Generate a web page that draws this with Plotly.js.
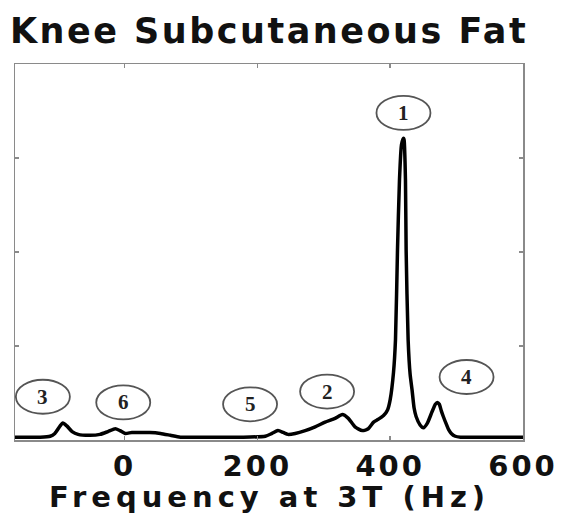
<!DOCTYPE html>
<html>
<head>
<meta charset="utf-8">
<script src="https://cdn.plot.ly/plotly-3.0.1.min.js"></script>
<style>
  html, body { margin: 0; padding: 0; background: #fff; }
  #chart { width: 565px; height: 516px; }
  #chart .gtitle { letter-spacing: 2.5px; }
  #chart .annotation[data-index="6"] text { letter-spacing: 5px; }
  #chart .xtick text { letter-spacing: 3px; }
</style>
</head>
<body>
<div id="chart"></div>
<script>
// Spectrum
const frequencyHz = [-165,-127,-112,-105,-97,-93,-87,-79,-70,-52,-37,-25,-14,-7,1,11,23,38,54,69,84,114,174,212,222,231,239,246,257,272,287,302,317,328,337,347,358,367,375,382,390,396,400,405,408,411,414,417,420,421,423,424,427,430,433,436,439,445,450,456,463,468,471,474,477,480,485,488,492,498,506,566,600];
const signal = [0.03,0.03,0.04,0.07,0.15,0.18,0.15,0.09,0.06,0.05,0.06,0.09,0.12,0.10,0.07,0.08,0.08,0.08,0.07,0.05,0.03,0.03,0.03,0.04,0.07,0.10,0.08,0.06,0.07,0.10,0.14,0.19,0.23,0.27,0.23,0.14,0.10,0.12,0.19,0.22,0.26,0.32,0.43,0.72,1.07,2.02,2.77,3.14,3.21,3.19,2.77,2.02,1.07,0.70,0.53,0.34,0.25,0.16,0.13,0.18,0.30,0.38,0.40,0.38,0.31,0.25,0.16,0.11,0.07,0.04,0.03,0.03,0.03];

// Peak labels
const peakLabels = ["1","2","3","4","5","6"];
const peakLabelFreq = [420, 305, -123, 515, 189, -2];
const peakLabelLevel = [3.48, 0.515, 0.46, 0.67, 0.38, 0.40];

// Axis ticks and titles
const xTickVals = [0, 200, 400, 600];
const xTickText = ["0", "200", "400", "600"];
const yTickVals = [1, 2, 3];
const chartTitle = "Knee Subcutaneous Fat";
const xAxisTitle = "Frequency at 3T (Hz)";

const trace = {
  x: frequencyHz,
  y: signal,
  type: "scatter",
  mode: "lines",
  line: { color: "#000", width: 3.5, shape: "spline", smoothing: 0.6 },
  hoverinfo: "skip"
};

const shapes = peakLabels.map((_, i) => ({
  type: "circle",
  xref: "x", yref: "y",
  xsizemode: "pixel", ysizemode: "pixel",
  xanchor: peakLabelFreq[i], yanchor: peakLabelLevel[i],
  x0: -27, x1: 27, y0: -17, y1: 17,
  line: { color: "#555", width: 1.8 },
  fillcolor: "rgba(0,0,0,0)"
}));

const annotations = peakLabels.map((t, i) => ({
  x: peakLabelFreq[i], y: peakLabelLevel[i],
  xref: "x", yref: "y",
  text: t, showarrow: false,
  font: { family: "Liberation Serif, serif", size: 21, color: "#222", weight: "bold" },
  xanchor: "center", yanchor: "middle"
}));

// x-axis title, drawn below the tick labels
annotations.push({
  text: xAxisTitle, showarrow: false,
  xref: "paper", yref: "paper", x: 0.5, y: -0.151,
  xanchor: "center", yanchor: "middle",
  font: { family: "DejaVu Sans, Arial, sans-serif", size: 29, color: "#111", weight: "bold" }
});

const axisLine = "#8a8a8a";

const layout = {
  width: 565, height: 516,
  margin: { l: 15, r: 42, t: 64, b: 76 },
  paper_bgcolor: "#fff", plot_bgcolor: "#fff",
  showlegend: false,
  title: {
    text: chartTitle,
    font: { family: "DejaVu Sans, Arial, sans-serif", size: 35, color: "#111", weight: "bold" },
    xref: "paper", x: 0.5, xanchor: "center",
    yref: "container", y: 0.94, yanchor: "middle"
  },
  xaxis: {
    range: [-165, 600],
    tickvals: xTickVals, ticktext: xTickText,
    ticks: "inside", ticklen: 4, tickcolor: axisLine, tickwidth: 1.5,
    showline: true, linecolor: axisLine, linewidth: 1.5, mirror: "ticks",
    showgrid: false, zeroline: false,
    tickfont: { family: "DejaVu Sans, Arial, sans-serif", size: 29, color: "#111", weight: "bold" },
    fixedrange: true
  },
  yaxis: {
    range: [0, 4],
    tickvals: yTickVals, showticklabels: false,
    ticks: "inside", ticklen: 4, tickcolor: axisLine, tickwidth: 1.5,
    showline: true, linecolor: axisLine, linewidth: 1.5, mirror: "ticks",
    showgrid: false, zeroline: false,
    fixedrange: true
  },
  shapes: shapes,
  annotations: annotations
};

Plotly.newPlot("chart", [trace], layout, { displayModeBar: false, staticPlot: true });
</script>
</body>
</html>
